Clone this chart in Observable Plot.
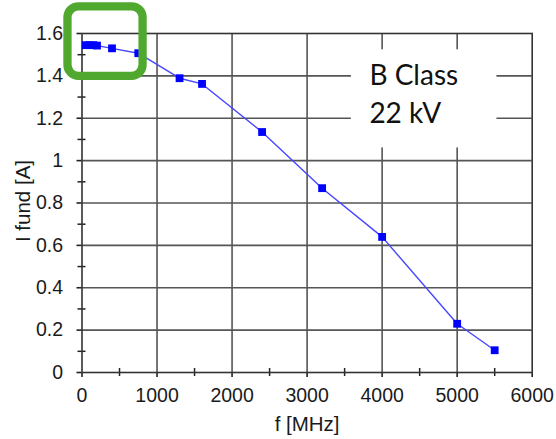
<!DOCTYPE html>
<html>
<head>
<meta charset="utf-8">
<script src="https://cdn.jsdelivr.net/npm/d3@7"></script>
<script src="https://cdn.jsdelivr.net/npm/@observablehq/plot@0.6"></script>
<style>
  html, body { margin: 0; padding: 0; background: #fff; }
  #chart svg { display: block; }
</style>
</head>
<body>
<div id="chart"></div>
<script>
// Fundamental current vs. frequency, B class amplifier at 22 kV
const freqMHz = [50, 100, 150, 200, 400, 750, 1300, 1600, 2400, 3200, 4000, 5000, 5500];
const currentA = [1.545, 1.545, 1.545, 1.543, 1.530, 1.507, 1.389, 1.362, 1.135, 0.870, 0.640, 0.230, 0.105];

// Axis ticks
const xMajor = [0, 1000, 2000, 3000, 4000, 5000, 6000];
const xMajorLabels = ["0", "1000", "2000", "3000", "4000", "5000", "6000"];
const xMinor = [500, 1500, 2500, 3500, 4500, 5500];
const yMajor = [0, 0.2, 0.4, 0.6, 0.8, 1.0, 1.2, 1.4, 1.6];
const yMajorLabels = ["0", "0.2", "0.4", "0.6", "0.8", "1", "1.2", "1.4", "1.6"];
const yMinor = [0.1, 0.3, 0.5, 0.7, 0.9, 1.1, 1.3, 1.5];

// Annotation box and highlight of the low-frequency points
const noteBox = [{x1: 3590, x2: 5530, y1: 1.06, y2: 1.523}];
const noteLines = [
  {text: "B Class", x: 3830, y: 1.40},
  {text: "22 kV", x: 3830, y: 1.22}
];
const highlight = [{x1: -187, x2: 814, y1: 1.398, y2: 1.726}];

const data = freqMHz.map((f, i) => ({f, I: currentA[i]}));

const W = 556, H = 439;
const mL = 81.5, mR = 24.3, mT = 33, mB = 67;
const innerH = H - mT - mB, innerW = W - mL - mR;

const arial = "Liberation Sans, Arial, sans-serif";
const ink = "#1a1a1a";

const chart = Plot.plot({
  width: W,
  height: H,
  marginLeft: mL,
  marginRight: mR,
  marginTop: mT,
  marginBottom: mB,
  style: {background: "white", overflow: "visible", fontFamily: arial},
  x: {domain: [0, 6000], axis: null},
  y: {domain: [0, 1.6], axis: null},
  marks: [
    // grid
    Plot.ruleX(xMajor.slice(1, -1), {x: d => d, stroke: "#555", strokeWidth: 1.6}),
    Plot.ruleY(yMajor.slice(1, -1), {y: d => d, stroke: "#555", strokeWidth: 1.6}),
    // major ticks poking out of the frame
    Plot.ruleX(xMajor, {x: d => d, insetTop: innerH, insetBottom: -5, stroke: "#222", strokeWidth: 1.6}),
    Plot.ruleY(yMajor, {y: d => d, insetRight: innerW, insetLeft: -5, stroke: "#222", strokeWidth: 1.6}),
    // minor ticks crossing the axes
    Plot.ruleX(xMinor, {x: d => d, insetTop: innerH - 4, insetBottom: -4, stroke: "#222", strokeWidth: 1.5}),
    Plot.ruleY(yMinor, {y: d => d, insetRight: innerW - 4, insetLeft: -4, stroke: "#222", strokeWidth: 1.5}),
    Plot.frame({stroke: "#333", strokeWidth: 1.6}),
    // tick labels
    Plot.text(xMajor, {x: d => d, text: (d, i) => xMajorLabels[i], frameAnchor: "bottom", lineAnchor: "middle", dy: 23, fontSize: 19.5, fontFamily: arial, fill: ink}),
    Plot.text(yMajor, {y: d => d, text: (d, i) => yMajorLabels[i], frameAnchor: "left", lineAnchor: "middle", dx: -19, textAnchor: "end", fontSize: 19.5, fontFamily: arial, fill: ink}),
    // axis titles
    Plot.text(["f [MHz]"], {frameAnchor: "bottom", textAnchor: "middle", lineAnchor: "middle", dy: 52, fontSize: 20.5, fontFamily: arial, fill: ink}),
    Plot.text(["I fund [A]"], {frameAnchor: "left", textAnchor: "middle", lineAnchor: "middle", dx: -59, dy: -2, rotate: -90, fontSize: 20.5, fontFamily: arial, fill: ink}),
    // annotation
    Plot.rect(noteBox, {x1: "x1", x2: "x2", y1: "y1", y2: "y2", fill: "white"}),
    Plot.text(noteLines, {x: "x", y: "y", text: "text", textAnchor: "start", fontSize: 28, fontFamily: "Lato, sans-serif", fill: "#111"}),
    // series
    Plot.line(data, {x: "f", y: "I", stroke: "#4646ff", strokeWidth: 1.4}),
    Plot.dot(data, {x: "f", y: "I", symbol: "square", r: 4.4, fill: "#0000ff", stroke: "none"}),
    // highlight box
    Plot.rect(highlight, {x1: "x1", x2: "x2", y1: "y1", y2: "y2", rx: 11, fill: "none", stroke: "#50a82e", strokeWidth: 8.3})
  ]
});

document.getElementById("chart").appendChild(chart);
</script>
</body>
</html>
